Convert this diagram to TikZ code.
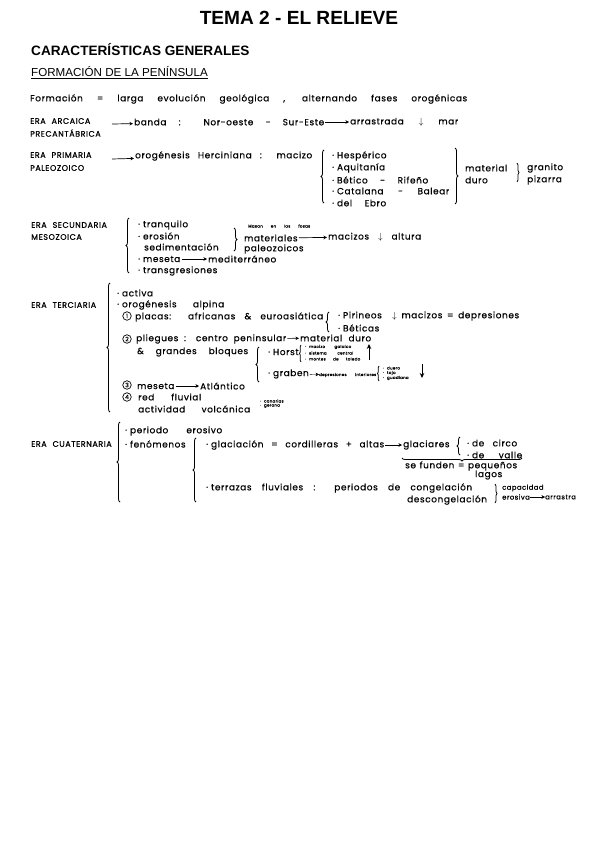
\documentclass[tikz,border=0pt]{standalone}
\usepackage{fontspec}
\usepackage{tikz}
\usetikzlibrary{decorations.pathreplacing, arrows.meta}
\setmainfont{Liberation Sans}
\newfontfamily\handfont[LetterSpace=7,WordSpace=2.2,FakeBold=0.6]{Poppins}
\newcommand{\handline}[2]{\hbox to #1pt{\spaceskip=2.5pt plus 1fil #2}}
\newcommand{\dt}{·\kern3pt}

\begin{document}
\begin{tikzpicture}[
  x=1pt, y=-1pt,
  title/.style={font=\fontsize{19.1}{22}\selectfont\bfseries, inner sep=0pt},
  head/.style={anchor=west, inner sep=0pt, font=\fontsize{13.6}{15}\selectfont\bfseries},
  subhead/.style={anchor=west, inner sep=0pt, font=\fontsize{11.6}{14}\selectfont},
  hand/.style={anchor=west, inner sep=1pt, font=\fontsize{8.9}{10}\handfont},
  era/.style={anchor=west, inner sep=1pt, font=\fontsize{8}{9}\handfont},
  small/.style={anchor=west, inner sep=0pt, font=\fontsize{6.8}{8}\handfont},
  tiny/.style={anchor=west, inner sep=0pt, font=\fontsize{4}{5}\handfont},
  num/.style={circle, draw, line width=0.7pt, inner sep=0pt, minimum size=8.5pt, font=\fontsize{6}{7}\handfont},
  brace/.style={draw, line width=0.8pt, decorate, decoration={brace, amplitude=#1}},
  brace/.default=3pt,
  go/.style={-{Stealth[length=3.5pt, width=3.5pt]}, line width=0.7pt},
  bigarrow/.style={-{Stealth[length=5pt, width=4.5pt]}, line width=1pt}
]
\useasboundingbox (0,0) rectangle (599,848);

\node[title] (tema) at (299,18) {TEMA 2 - EL RELIEVE};
\node[head] (caract) at (31,50) {CARACTERÍSTICAS GENERALES};
\node[subhead] (formac) at (31,73) {\underline{FORMACIÓN DE LA PENÍNSULA}};

\node[hand] (formacion) at (29,99) {\handline{437}{Formación = larga evolución geológica , alternando fases orogénicas}};

% arcaica
\node[era] (arcaica) at (29,121) {ERA ARCAICA};
\node[era] (precant) at (29,133) {PRECANTÁBRICA};
\coordinate (arcaicaout) at (112,124);
\node[hand] (banda) at (133,122) {\handline{190}{banda : Nor-oeste − Sur-Este}};
\node[hand] (arrastrada) at (349,122) {\handline{108}{arrastrada $\downarrow$ mar}};
\draw[go] (arcaicaout) -- (banda);
\draw[go] (banda) -- (arrastrada);

% primaria
\node[era] (primaria) at (29,155) {ERA PRIMARIA};
\node[era] (paleo) at (29,168) {PALEOZOICO};
\coordinate (primariaout) at (112,159);
\node[hand] (orog) at (134,156) {\handline{177}{orogénesis Herciniana : macizo}};
\draw[go] (primariaout) -- (orog);
\draw[brace] (324,203) -- (324,150);
\node[hand] (hesp) at (331,156) {\dt Hespérico};
\node[hand] (aquit) at (331,168) {\dt Aquitanía};
\node[hand] (betico) at (331,180) {\handline{96}{\dt Bético - Rifeño}};
\node[hand] (catal) at (331,191) {\handline{117}{\dt Catalana - Balear}};
\node[hand] (ebro) at (331,203) {\handline{54}{\dt del Ebro}};
\draw[brace] (455,148) -- (455,204);
\node[hand] (mater) at (464,168) {material};
\node[hand] (duro) at (464,180) {duro};
\draw[brace=2pt] (517,163) -- (517,182);
\node[hand] (granito) at (526,168) {granito};
\node[hand] (pizarra) at (526,180) {pizarra};

% secundaria
\node[era] (secund) at (30,225) {ERA SECUNDARIA};
\node[era] (meso) at (30,237) {MESOZOICA};
\draw[brace] (129,273) -- (129,218);
\node[hand] (tranq) at (137,225) {\dt tranquilo};
\node[hand] (eros) at (137,236) {\dt erosión};
\node[hand] (sedim) at (143,247) {sedimentación};
\node[hand] (meseta) at (137,259) {\dt meseta};
\node[hand] (medit) at (207,259) {mediterráneo};
\draw[go] (meseta) -- (medit);
\node[hand] (transg) at (137,271) {\dt transgresiones};
\draw[brace] (234,228) -- (234,251);
\node[tiny] (masas) at (248,226) {\handline{62}{Masan en las fosas}};
\node[hand] (materia) at (243,238) {materiales};
\node[hand] (paleoz) at (243,249) {paleozoicos};
\node[hand] (macizos) at (327,237) {\handline{93}{macizos $\downarrow$ altura}};
\draw[go] (materia) -- (macizos);

% terciaria
\node[era] (tercia) at (30,305) {ERA TERCIARIA};
\draw[brace] (110,412) -- (110,283);
\node[hand] (activa) at (116,293) {\dt activa};
\node[hand] (alpina) at (116,305) {\handline{107}{\dt orogénesis alpina}};
\node[num] (uno) at (127,316) {1};
\node[hand] (placas) at (134,317) {\handline{188}{placas: africanas \& euroasiática}};
\draw[brace] (329,332) -- (329,312);
\node[hand] (piri) at (337,315) {\dt Pirineos};
\node[hand] (beti) at (337,328) {\dt Béticas};
\node[hand] (depres) at (391,316) {\handline{127}{$\downarrow$ macizos = depresiones}};
\node[num] (dos) at (127,339) {2};
\node[hand] (pliegues) at (135,339) {\handline{150}{pliegues : centro peninsular}};
\node[hand] (matdur) at (299,338) {\handline{71}{material duro}};
\draw[go] (pliegues) -- (matdur);
\node[hand] (bloques) at (136,352) {\handline{111}{\& grandes bloques}};
\draw[brace] (259,382) -- (259,347);
\node[hand] (horst) at (267,352) {\dt Horst};
\draw[brace=1.5pt] (301,362) -- (301,345);
\node[tiny] (galaico) at (305,347) {\handline{46}{\dt macizo galaico}};
\node[tiny] (central) at (305,353) {\handline{48}{\dt sistema central}};
\node[tiny] (toledo) at (305,359) {\handline{55}{\dt montes de toledo}};
\coordinate (subeA) at (369,360);
\coordinate (subeB) at (369,344);
\draw[bigarrow] (subeA) -- (subeB);
\node[hand] (graben) at (267,374) {\dt graben};
\node[tiny] (interi) at (319,375) {\handline{57}{depresiones interiores}};
\draw[go, line width=0.3pt] (graben) -- (interi);
\draw[brace=1.5pt] (379,381) -- (379,366);
\node[tiny] (duero) at (383,368) {\dt duero};
\node[tiny] (tajo) at (383,373) {\dt tajo};
\node[tiny] (guadi) at (383,378) {\dt guadiana};
\coordinate (bajaA) at (422,364);
\coordinate (bajaB) at (422,378);
\draw[bigarrow] (bajaA) -- (bajaB);
\node[num] (tres) at (127,385) {3};
\node[hand] (mesetb) at (136,386) {meseta};
\node[hand] (atlant) at (199,386) {Atlántico};
\draw[go] (mesetb) -- (atlant);
\node[num] (cuatro) at (127,397) {4};
\node[hand] (fluvial) at (137,397) {\handline{63}{red fluvial}};
\node[hand] (volcan) at (137,409) {\handline{112}{actividad volcánica}};
\node[tiny] (canar) at (260,401) {\dt canarias};
\node[tiny] (geron) at (260,406) {\dt gerona};

% cuaternaria
\node[era] (cuater) at (30,444) {ERA CUATERNARIA};
\draw[brace] (120,502) -- (120,422);
\node[hand] (period) at (124,431) {\handline{97}{\dt periodo erosivo}};
\node[hand] (fenom) at (124,444) {\dt fenómenos};
\draw[brace] (196,502) -- (196,438);
\node[hand] (glaci) at (205,445) {\handline{178}{\dt glaciación = cordilleras + altas}};
\node[hand] (glacia) at (402,445) {glaciares};
\draw[go] (glaci) -- (glacia);
\draw[brace] (460,455) -- (460,437);
\node[hand] (circo) at (466,443) {\handline{50}{\dt de circo}};
\node[hand] (valle) at (466,455) {\handline{55}{\dt de valle}};
\draw[brace=3pt] (522,458) -- (402,458);
\node[hand] (funden) at (404,466) {\handline{112}{se funden = pequeños}};
\node[hand] (lagos) at (474,475) {lagos};
\node[hand] (terraz) at (205,488) {\handline{266}{\dt terrazas fluviales : periodos de congelación}};
\node[hand] (descon) at (406,500) {descongelación};
\draw[brace=2pt] (495,484) -- (495,503);
\node[small] (capac) at (502,488) {capacidad};
\node[small] (erosiv) at (502,497) {erosiva};
\node[small] (arrast) at (545,497) {arrastra};
\draw[go, line width=0.4pt] (erosiv) -- (arrast);

\end{tikzpicture}
\end{document}
